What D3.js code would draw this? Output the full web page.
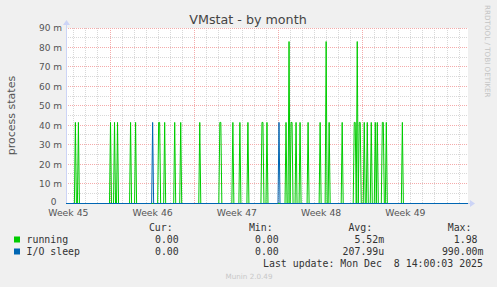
<!DOCTYPE html>
<html>
<head>
<meta charset="utf-8">
<style>
  body { margin: 0; background: #f0f0f0; }
  svg { display: block; }
</style>
</head>
<body>
<svg></svg>
<script src="https://cdn.jsdelivr.net/npm/d3@7/dist/d3.min.js"></script>
<script>
(function (d3) {
  'use strict';

  // data: 2-hour buckets with a non-zero average (everything else is 0)
  const runningTimes = [
    '2025-11-07T02:00Z', '2025-11-07T08:00Z', '2025-11-10T00:00Z', '2025-11-10T08:00Z',
    '2025-11-10T14:00Z', '2025-11-11T16:00Z', '2025-11-12T02:00Z', '2025-11-14T00:00Z',
    '2025-11-14T02:00Z', '2025-11-14T12:00Z', '2025-11-15T08:00Z', '2025-11-15T20:00Z',
    '2025-11-17T10:00Z', '2025-11-19T02:00Z', '2025-11-19T04:00Z', '2025-11-20T04:00Z',
    '2025-11-20T18:00Z', '2025-11-21T10:00Z', '2025-11-22T14:00Z', '2025-11-22T16:00Z',
    '2025-11-23T00:00Z', '2025-11-24T14:00Z', '2025-11-24T20:00Z', '2025-11-25T00:00Z',
    '2025-11-25T02:00Z', '2025-11-25T10:00Z', '2025-11-25T18:00Z', '2025-11-26T10:00Z',
    '2025-11-27T10:00Z', '2025-11-27T22:00Z', '2025-11-28T04:00Z', '2025-11-29T06:00Z',
    '2025-11-30T06:00Z', '2025-11-30T08:00Z', '2025-11-30T12:00Z', '2025-11-30T16:00Z',
    '2025-11-30T18:00Z', '2025-12-01T02:00Z', '2025-12-01T08:00Z', '2025-12-01T16:00Z',
    '2025-12-02T00:00Z', '2025-12-02T04:00Z', '2025-12-02T14:00Z', '2025-12-02T16:00Z',
    '2025-12-02T22:00Z', '2025-12-04T06:00Z'
  ];
  const runningValues = [
    0.0417, 0.0417, 0.0417, 0.0417,
    0.0417, 0.0417, 0.0417, 0.0417,
    0.0417, 0.0417, 0.0417, 0.0417,
    0.0417, 0.0417, 0.0417, 0.0417,
    0.0417, 0.0417, 0.0417, 0.0417,
    0.0417, 0.0417, 0.0833, 0.0417,
    0.0417, 0.0417, 0.0417, 0.0417,
    0.0417, 0.0833, 0.0417, 0.0417,
    0.0417, 0.0417, 0.0833, 0.0417,
    0.0417, 0.0417, 0.0417, 0.0417,
    0.0417, 0.0417, 0.0417, 0.0417,
    0.0417, 0.0417
  ];
  const ioSleepTimes = ['2025-11-13T12:00Z', '2025-11-24T00:00Z'];
  const ioSleepValues = [0.0417, 0.0417];

  const yTickValues = [0, 0.01, 0.02, 0.03, 0.04, 0.05, 0.06, 0.07, 0.08, 0.09];
  const yTickLabels = ['0', '10 m', '20 m', '30 m', '40 m', '50 m', '60 m', '70 m', '80 m', '90 m'];
  const weekStarts = ['2025-11-03T00:00Z', '2025-11-10T00:00Z', '2025-11-17T00:00Z', '2025-11-24T00:00Z', '2025-12-01T00:00Z'];
  const weekLabels = ['Week 45', 'Week 46', 'Week 47', 'Week 48', 'Week 49'];

  const seriesNames = ['running', 'I/O sleep'];
  const seriesColors = ['#00cc00', '#0066b3'];
  const curValues = ['0.00', '0.00'];
  const minValues = ['0.00', '0.00'];
  const avgValues = ['5.52m', '207.99u'];
  const maxValues = ['1.98', '990.00m'];

  const width = 497;
  const height = 287;
  const margin = { top: 28, right: 29, bottom: 84, left: 66 };
  const innerWidth = width - margin.left - margin.right;
  const innerHeight = height - margin.top - margin.bottom;
  const bucket = 2 * 3600 * 1000;
  const charW = 5.96;

  const svg = d3.select('svg')
      .attr('width', width)
      .attr('height', height)
      .style('font-family', '"DejaVu Sans", sans-serif');

  const x = d3.scaleUtc()
      .domain([new Date('2025-11-06T08:15Z'), new Date('2025-12-09T17:52Z')])
      .range([0, innerWidth]);
  const y = d3.scaleLinear().domain([0, 0.09]).range([innerHeight, 0]);

  // title
  svg.append('text')
      .attr('x', 248).attr('y', 24)
      .attr('text-anchor', 'middle')
      .attr('font-size', 12.7)
      .attr('fill', '#444')
      .text('VMstat - by month');

  svg.append('text')
      .attr('transform', 'translate(485,5) rotate(90)')
      .attr('font-size', 7.2)
      .attr('fill', '#c4c4c4')
      .text('RRDTOOL / TOBI OETIKER');

  svg.append('text')
      .attr('transform', `translate(15,${margin.top + innerHeight / 2}) rotate(-90)`)
      .attr('text-anchor', 'middle')
      .attr('font-size', 11)
      .attr('fill', '#555')
      .text('process states');

  const g = svg.append('g')
      .attr('transform', `translate(${margin.left},${margin.top})`);

  g.append('rect')
      .attr('width', innerWidth)
      .attr('height', innerHeight)
      .attr('fill', '#fff');

  const grid = g.append('g').attr('shape-rendering', 'crispEdges');

  // minor grid: every 5 m and every day
  grid.selectAll('.hminor').data(y.ticks(18))
    .enter().append('line')
      .attr('x1', 0).attr('x2', innerWidth)
      .attr('y1', d => y(d)).attr('y2', d => y(d))
      .attr('stroke', '#d8d8d8')
      .attr('stroke-dasharray', '1,1');

  grid.selectAll('.vminor').data(d3.utcDay.range(...x.domain()))
    .enter().append('line')
      .attr('x1', d => x(d)).attr('x2', d => x(d))
      .attr('y1', 0).attr('y2', innerHeight)
      .attr('stroke', '#d8d8d8')
      .attr('stroke-dasharray', '1,1');

  // major grid: every 10 m and every week
  grid.selectAll('.hmajor').data(yTickValues)
    .enter().append('line')
      .attr('x1', 0).attr('x2', innerWidth)
      .attr('y1', d => y(d)).attr('y2', d => y(d))
      .attr('stroke', '#f4abab')
      .attr('stroke-dasharray', '1,1');

  const weekDates = weekStarts.map(d => new Date(d));
  grid.selectAll('.vmajor').data(weekDates.filter(d => d > x.domain()[0]))
    .enter().append('line')
      .attr('x1', d => x(d)).attr('x2', d => x(d))
      .attr('y1', 0).attr('y2', innerHeight)
      .attr('stroke', '#f4abab')
      .attr('stroke-dasharray', '1,1');

  // axes
  const yAxis = d3.axisLeft(y)
      .tickValues(yTickValues)
      .tickFormat((d, i) => yTickLabels[i])
      .tickSize(0)
      .tickPadding(4);
  g.append('g').call(yAxis)
      .call(a => a.select('.domain').remove())
      .selectAll('text')
        .attr('font-size', 9)
        .attr('font-family', '"DejaVu Sans", sans-serif')
        .attr('fill', '#555')
        .attr('dx', d => d === 0 ? -5.5 : 0)
        .attr('dy', d => d === 0 ? '0.2em' : '0.32em');

  const xAxis = d3.axisBottom(x)
      .tickValues(weekDates.map(d => d3.utcHour.offset(d, 84)))
      .tickFormat((d, i) => weekLabels[i])
      .tickSize(0)
      .tickPadding(6);
  g.append('g')
      .attr('transform', `translate(0,${innerHeight})`)
      .call(xAxis)
      .call(a => a.select('.domain').remove())
      .selectAll('text')
        .attr('font-size', 9.3)
        .attr('font-family', '"DejaVu Sans", sans-serif')
        .attr('fill', '#555');

  g.append('line')
      .attr('x1', 0.5).attr('x2', 0.5)
      .attr('y1', innerHeight).attr('y2', -4)
      .attr('stroke', '#ccd4f6');
  g.append('line')
      .attr('x1', 0).attr('x2', innerWidth + 3)
      .attr('y1', innerHeight + 0.5).attr('y2', innerHeight + 0.5)
      .attr('stroke', '#ccd4f6');
  g.append('path')
      .attr('d', 'M-3,-3L0.5,-8L4,-3Z')
      .attr('fill', '#ccd4f6');
  g.append('path')
      .attr('d', `M${innerWidth + 2},${innerHeight - 3}L${innerWidth + 7},${innerHeight + 0.5}L${innerWidth + 2},${innerHeight + 4}Z`)
      .attr('fill', '#ccd4f6');

  // line points at bucket centres, zero buckets around each non-zero one
  function linePoints(times, values) {
    const pts = [[x.domain()[0], 0]];
    const centres = times.map(t => new Date(+new Date(t) + bucket / 2));
    centres.forEach((c, i) => {
      const prev = centres[i - 1];
      const next = centres[i + 1];
      if (!prev || +c - +prev > bucket) pts.push([new Date(+c - bucket), 0]);
      pts.push([c, values[i]]);
      if (!next || +next - +c > bucket) pts.push([new Date(+c + bucket), 0]);
    });
    pts.push([x.domain()[1], 0]);
    return pts;
  }

  const line = d3.line()
      .x(d => x(d[0]))
      .y(d => y(d[1]) + 0.5);

  const series = [
    linePoints(runningTimes, runningValues),
    linePoints(ioSleepTimes, ioSleepValues)
  ];

  g.selectAll('.series').data(series)
    .enter().append('path')
      .attr('d', line)
      .attr('fill', 'none')
      .attr('stroke', (d, i) => seriesColors[i])
      .attr('stroke-width', 1);

  // legend (monospace columns, values padded like rrdtool's "%6.2lf%s")
  const legend = svg.append('g')
      .style('font-family', '"DejaVu Sans Mono", monospace')
      .attr('font-size', 9.9)
      .attr('fill', '#333');

  const cols = [184.7, 284.7, 384.2, 483.5];
  const headers = ['Cur:', 'Min:', 'Avg:', 'Max:'];
  legend.selectAll('.hdr').data(headers)
    .enter().append('text')
      .attr('x', (d, i) => cols[i] - 12)
      .attr('y', 231)
      .attr('text-anchor', 'end')
      .text(d => d);

  const rows = legend.selectAll('.row').data(seriesNames)
    .enter().append('g')
      .attr('transform', (d, i) => `translate(0,${243 + i * 12})`);

  rows.append('rect')
      .attr('x', 14).attr('y', -6.5)
      .attr('width', 6).attr('height', 6)
      .attr('fill', (d, i) => seriesColors[i]);
  rows.append('text')
      .attr('x', 26.5)
      .text(d => d);
  [curValues, minValues, avgValues, maxValues].forEach((vals, c) => {
    rows.append('text')
        .attr('x', (d, i) => cols[c] - (/[a-z]$/.test(vals[i]) ? 0 : charW))
        .attr('text-anchor', 'end')
        .text((d, i) => vals[i]);
  });

  legend.append('text')
      .attr('x', 483)
      .attr('y', 267)
      .attr('text-anchor', 'end')
      .style('white-space', 'pre')
      .text('Last update: Mon Dec  8 14:00:03 2025');

  svg.append('text')
      .attr('x', 249).attr('y', 278.5)
      .attr('text-anchor', 'middle')
      .attr('font-size', 7.2)
      .attr('fill', '#c8c8c8')
      .text('Munin 2.0.49');

}(d3));
</script>
</body>
</html>
